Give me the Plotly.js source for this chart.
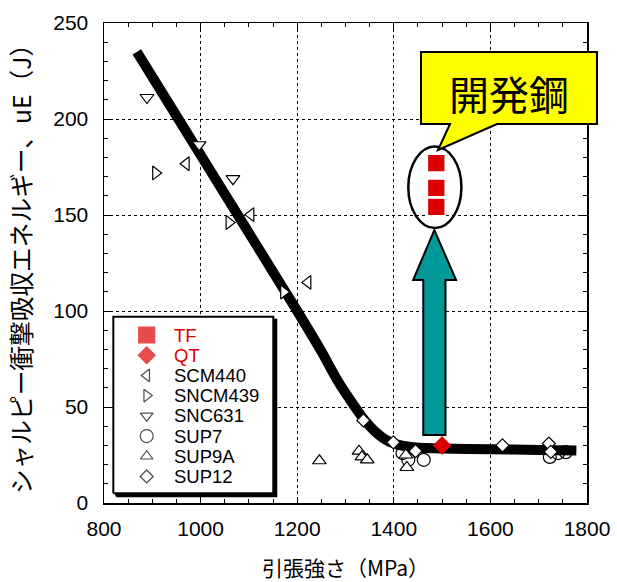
<!DOCTYPE html>
<html>
<head>
<meta charset="utf-8">
<script src="https://cdn.plot.ly/plotly-3.0.1.min.js"></script>
<style>html,body{margin:0;padding:0;background:#fff;}#chart{width:617px;height:582px;}</style>
</head>
<body>
<div id="chart"></div>
<script>
// ---- data ----
const seriesNames = ['TF', 'QT', 'SCM440', 'SNCM439', 'SNC631', 'SUP7', 'SUP9A', 'SUP12'];
const tfX = [1488, 1488, 1488];
const tfY = [177, 164.1, 154.2];
const qtX = [1500];
const qtY = [30];
const scm440X = [970, 1104, 1222];
const scm440Y = [176.7, 150.2, 114.9];
const sncm439X = [907, 1059, 1172];
const sncm439Y = [171.9, 146.1, 109.9];
const snc631X = [889, 997, 1067];
const snc631Y = [211.2, 186.6, 168.9];
const sup7X = [1418, 1430, 1462, 1723, 1740, 1756];
const sup7Y = [26, 22.5, 22.5, 24, 26, 26.5];
const sup9aX = [1246, 1328, 1334, 1345, 1425, 1427];
const sup9aY = [22, 27, 24, 22.5, 25, 18.5];
const sup12X = [1337, 1399, 1445, 1625, 1721, 1725];
const sup12Y = [43, 31.6, 27, 30, 31, 26.6];
const trendX = [868, 954, 1077, 1200, 1250, 1283, 1317, 1340, 1360, 1380, 1400, 1440, 1500, 1600, 1700, 1778];
const trendY = [235, 200, 150, 100, 79, 64, 51, 43, 37.5, 33.5, 31, 29, 28.4, 28, 27.6, 27.3];
const xTickVals = [800, 1000, 1200, 1400, 1600, 1800];
const yTickVals = [0, 50, 100, 150, 200, 250];
const calloutText = '開発鋼';
const xTitle = '\u3000引張強さ（MPa）';
const yTitle = 'シャルピー衝撃吸収エネルギー、uE（J）';

// ---- styles ----
const RED = '#dd0000';
const TEAL = '#009999';
const XR = [800, 1800], YR = [0, 250];
const px2x = p => XR[0] + p * (XR[1] - XR[0]);
const py2y = p => YR[0] + p * (YR[1] - YR[0]);

const symbols = ['square', 'diamond', 'triangle-left', 'triangle-right', 'triangle-down', 'circle-open', 'triangle-up', 'diamond'];
const symColors = [RED, RED, 'white', 'white', 'white', 'black', 'white', 'white'];
const symLine = ['white', RED, 'black', 'black', 'black', 'black', 'black', 'black'];
const dataSizes = [17.5, 13, 12, 12, 12, 13, 12, 10];
const legSizes = [16, 13, 11, 11, 11, 13, 11, 10];

function pts(name, x, y, i) {
  return {
    type: 'scatter', mode: 'markers', name: name, x: x, y: y, showlegend: false,
    marker: { symbol: symbols[i], size: dataSizes[i], color: symColors[i],
              line: { color: symLine[i], width: 1.2 } },
    cliponaxis: false
  };
}

// legend geometry in paper fractions
const LEG = { x0: 0.0193, x1: 0.3505, y0: 0.0202, y1: 0.3881, symX: 0.0884, txtX: 0.140, firstY: 0.35, step: 0.0421 };
const legY = seriesNames.map((_, i) => LEG.firstY - i * LEG.step);
const legSymLine = [RED, RED, 'black', 'black', 'black', 'black', 'black', 'black'];
const shadowDx = 0.0062, shadowDy = 0.00625;

const traces = [
  { type: 'scatter', mode: 'lines', x: trendX, y: trendY, showlegend: false,
    line: { color: 'black', width: 10, shape: 'spline', smoothing: 0.6 }, hoverinfo: 'skip' },
  pts('SCM440', scm440X, scm440Y, 2),
  pts('SNCM439', sncm439X, sncm439Y, 3),
  pts('SNC631', snc631X, snc631Y, 4),
  pts('SUP7', sup7X, sup7Y, 5),
  pts('SUP9A', sup9aX, sup9aY, 6),
  pts('SUP12', sup12X, sup12Y, 7),
  pts('QT', qtX, qtY, 1),
  pts('TF', tfX, tfY, 0),
  // legend box shadow + box
  { type: 'scatter', mode: 'lines', showlegend: false, hoverinfo: 'skip', fill: 'toself', fillcolor: 'black',
    x: [LEG.x0, LEG.x1, LEG.x1, LEG.x0, LEG.x0].map(v => px2x(v + shadowDx)),
    y: [LEG.y0, LEG.y0, LEG.y1, LEG.y1, LEG.y0].map(v => py2y(v - shadowDy)),
    line: { color: 'black', width: 2 } },
  { type: 'scatter', mode: 'lines', showlegend: false, hoverinfo: 'skip', fill: 'toself', fillcolor: 'white',
    x: [LEG.x0, LEG.x1, LEG.x1, LEG.x0, LEG.x0].map(px2x),
    y: [LEG.y0, LEG.y0, LEG.y1, LEG.y1, LEG.y0].map(py2y),
    line: { color: 'black', width: 2 } },
  { type: 'scatter', mode: 'markers', showlegend: false, hoverinfo: 'skip',
    x: seriesNames.map(() => px2x(LEG.symX)), y: legY.map(py2y),
    marker: { symbol: symbols, size: legSizes, color: symColors, line: { color: legSymLine, width: 1.2 } } }
];

const annotations = seriesNames.map((n, i) => ({
  xref: 'paper', yref: 'paper', x: LEG.txtX, y: legY[i], xanchor: 'left', yanchor: 'middle',
  text: n, showarrow: false,
  font: { family: 'Arial, Liberation Sans, sans-serif', size: 18.5, color: i < 2 ? RED : 'black' }
}));
annotations.push({
  xref: 'paper', yref: 'paper', x: 0.8385, y: 0.8552, xanchor: 'center', yanchor: 'middle',
  text: calloutText, showarrow: false,
  font: { family: 'Noto Sans CJK JP', size: 40, color: 'black' }
});

const shapes = [
  { type: 'circle', xref: 'x', yref: 'y', x0: 1430, x1: 1540, y0: 143.2, y1: 185.7,
    line: { color: 'black', width: 2.5 }, layer: 'above' },
  { type: 'path', xref: 'x', yref: 'y', layer: 'above',
    path: 'M1461,35.4 L1461,116.1 L1440,116.1 L1484,142.2 L1529,116.1 L1507,116.1 L1507,35.4 Z',
    fillcolor: TEAL, line: { color: 'black', width: 2 } },
  { type: 'path', xref: 'paper', yref: 'paper', layer: 'above',
    path: 'M0.6563,0.9396 L1.0207,0.9396 L1.0207,0.7896 L0.8137,0.7896 L0.6915,0.7354 L0.7164,0.7896 L0.6563,0.7896 Z',
    fillcolor: '#ffff00', line: { color: 'black', width: 2 } }
];

const axisCommon = {
  showline: true, linecolor: 'black', linewidth: 1.5, mirror: 'ticks',
  ticks: 'inside', ticklen: 6, tickcolor: 'black', tickwidth: 1,
  showgrid: true, gridcolor: 'black', gridwidth: 1, griddash: 'dot',
  zeroline: false, fixedrange: true,
  tickfont: { family: 'Arial, Liberation Sans, sans-serif', size: 21, color: 'black' }
};

const layout = {
  width: 617, height: 582,
  margin: { l: 104, r: 30, t: 23, b: 79 },
  paper_bgcolor: 'white', plot_bgcolor: 'white',
  showlegend: false,
  xaxis: Object.assign({}, axisCommon, {
    range: XR, tickvals: xTickVals, ticktext: xTickVals.map(String), ticklabelstandoff: 6,
    minor: { dtick: 50, ticks: 'inside', ticklen: 4, tickcolor: 'black', showgrid: false },
    title: { text: xTitle, font: { family: 'Noto Sans CJK JP', size: 21, color: 'black' }, standoff: 24 },
    automargin: false
  }),
  yaxis: Object.assign({}, axisCommon, {
    range: YR, tickvals: yTickVals, ticktext: yTickVals.map(String), ticklabelstandoff: 10,
    minor: { dtick: 10, ticks: 'inside', ticklen: 4, tickcolor: 'black', showgrid: false },
    title: { text: yTitle, font: { family: 'Noto Sans CJK JP', size: 24.7, color: 'black' }, standoff: 14 },
    automargin: false
  }),
  annotations: annotations,
  shapes: shapes
};

Plotly.newPlot('chart', traces, layout, { displayModeBar: false, staticPlot: true });
</script>
</body>
</html>
